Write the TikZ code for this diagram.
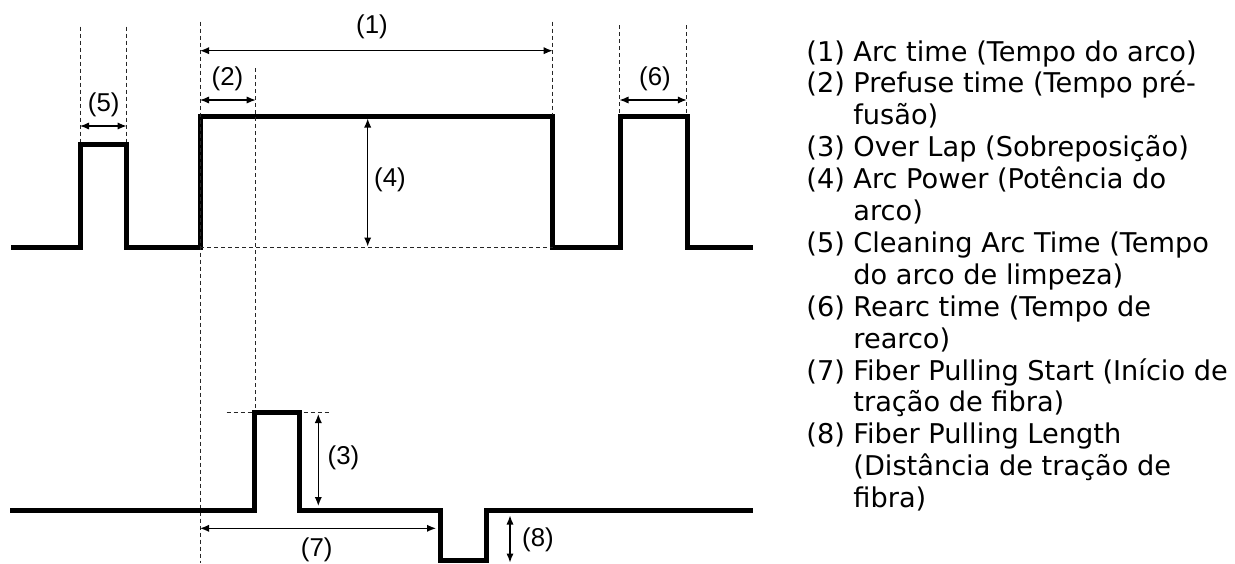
\documentclass[tikz,border=0pt]{standalone}
\usepackage{fontspec}
\setmainfont{Liberation Sans}
\newfontfamily\legendfont{DejaVu Sans}
\usetikzlibrary{arrows.meta}
\begin{document}
\begin{tikzpicture}[x=0.5pt,y=-0.5pt,
  wave/.style={line width=2.5pt, line join=miter, line cap=butt},
  guide/.style={line width=0.5pt, dash pattern=on 2pt off 1.5pt, black!85},
  dim/.style={line width=0.6pt, {Latex[length=4.5pt,width=3.6pt]}-{Latex[length=4.5pt,width=3.6pt]}},
  lab/.style={font=\fontsize{12.9}{15}\selectfont, inner sep=0pt, anchor=center},
  leg/.style={font=\legendfont\fontsize{13.6}{16}\selectfont, inner sep=0pt, anchor=base west}]
\useasboundingbox (0,0) rectangle (1235,563);

% ---- top waveform ----
\draw[wave] (11,247.6) -- (80,247.6) -- (80,144) -- (126.6,144) -- (126.6,247.6)
  -- (200,247.6) -- (200,116.7) -- (552.7,116.7) -- (552.7,247.6)
  -- (620,247.6) -- (620,116.7) -- (687.3,116.7) -- (687.3,247.6) -- (753.3,247.6);

% guide coordinates
\coordinate (g5a) at (80,26.7);   \coordinate (g5ab) at (80,142);
\coordinate (g5b) at (126.6,26.7);\coordinate (g5bb) at (126.6,142);
\coordinate (g1a) at (200,21.7);  \coordinate (g1ab) at (200,563);
\coordinate (g2) at (255.7,68.3); \coordinate (g2b) at (255.7,411);
\coordinate (g1b) at (552.7,21.7);\coordinate (g1bb) at (552.7,115);
\coordinate (g6a) at (619.5,25);  \coordinate (g6ab) at (619.5,115);
\coordinate (g6b) at (686.8,25);  \coordinate (g6bb) at (686.8,115);
\coordinate (h4a) at (200,247.6); \coordinate (h4b) at (552.7,247.6);
\coordinate (h3a) at (226.7,412.5); \coordinate (h3b) at (330,412.5);

\draw[guide] (g5a) -- (g5ab);
\draw[guide] (g5b) -- (g5bb);
\draw[guide] (g1a) -- (g1ab);
\draw[guide] (g2) -- (g2b);
\draw[guide] (g1b) -- (g1bb);
\draw[guide] (g6a) -- (g6ab);
\draw[guide] (g6b) -- (g6bb);
\draw[guide] (h4a) -- (h4b);
\draw[guide] (h3a) -- (h3b);

% dimension arrows
\coordinate (a1l) at (200,50.7);   \coordinate (a1r) at (552.7,50.7);
\coordinate (a2l) at (200,100);    \coordinate (a2r) at (255.7,100);
\coordinate (a5l) at (80,126);     \coordinate (a5r) at (126.6,126);
\coordinate (a6l) at (619.5,100);  \coordinate (a6r) at (686.8,100);
\coordinate (a4t) at (367.7,118.5);\coordinate (a4b) at (367.7,246.5);
\coordinate (a3t) at (318.3,414);  \coordinate (a3b) at (318.3,506);
\coordinate (a7l) at (200,528.3);  \coordinate (a7r) at (436,528.3);
\coordinate (a8t) at (510,515.5);  \coordinate (a8b) at (510,562.5);

\draw[dim] (a1l) -- (a1r);
\draw[dim] (a2l) -- (a2r);
\draw[dim] (a5l) -- (a5r);
\draw[dim] (a6l) -- (a6r);
\draw[dim] (a4t) -- (a4b);
\draw[dim] (a3t) -- (a3b);
\draw[dim] (a7l) -- (a7r);
\draw[dim] (a8t) -- (a8b);

\node[lab] (l1) at (372,27) {(1)};
\node[lab] (l2) at (227.5,79) {(2)};
\node[lab] (l5) at (103.7,105) {(5)};
\node[lab] (l4) at (390,180) {(4)};
\node[lab] (l6) at (655,79) {(6)};
\node[lab] (l3) at (343.5,457.5) {(3)};
\node[lab] (l7) at (316.7,550) {(7)};
\node[lab] (l8) at (538,540) {(8)};

% ---- bottom waveform ----
\draw[wave] (10,510.8) -- (254,510.8) -- (254,412.5) -- (299,412.5) -- (299,510.8)
  -- (440.8,510.8) -- (440.8,560.5) -- (486.5,560.5) -- (486.5,510.8) -- (753.3,510.8);

% ---- legend ----
\node[leg] (n1) at (806,61) {(1)};
\node[leg] (t1) at (853,61) {Arc time (Tempo do arco)};
\node[leg] (n2) at (806,92.9) {(2)};
\node[leg] (t2) at (853,92.9) {Prefuse time (Tempo pré-};
\node[leg] (t2b) at (853,124.8) {fusão)};
\node[leg] (n3) at (806,156.7) {(3)};
\node[leg] (t3) at (853,156.7) {Over Lap (Sobreposição)};
\node[leg] (n4) at (806,188.6) {(4)};
\node[leg] (t4) at (853,188.6) {Arc Power (Potência do};
\node[leg] (t4b) at (853,220.5) {arco)};
\node[leg] (n5) at (806,252.4) {(5)};
\node[leg] (t5) at (853,252.4) {Cleaning Arc Time (Tempo};
\node[leg] (t5b) at (853,284.3) {do arco de limpeza)};
\node[leg] (n6) at (806,316.2) {(6)};
\node[leg] (t6) at (853,316.2) {Rearc time (Tempo de};
\node[leg] (t6b) at (853,348.1) {rearco)};
\node[leg] (n7) at (806,380) {(7)};
\node[leg] (t7) at (853,380) {Fiber Pulling Start (Início de};
\node[leg] (t7b) at (853,411.9) {tração de fibra)};
\node[leg] (n8) at (806,443.8) {(8)};
\node[leg] (t8) at (853,443.8) {Fiber Pulling Length};
\node[leg] (t8b) at (853,475.7) {(Distância de tração de};
\node[leg] (t8c) at (853,507.6) {fibra)};
\end{tikzpicture}
\end{document}
